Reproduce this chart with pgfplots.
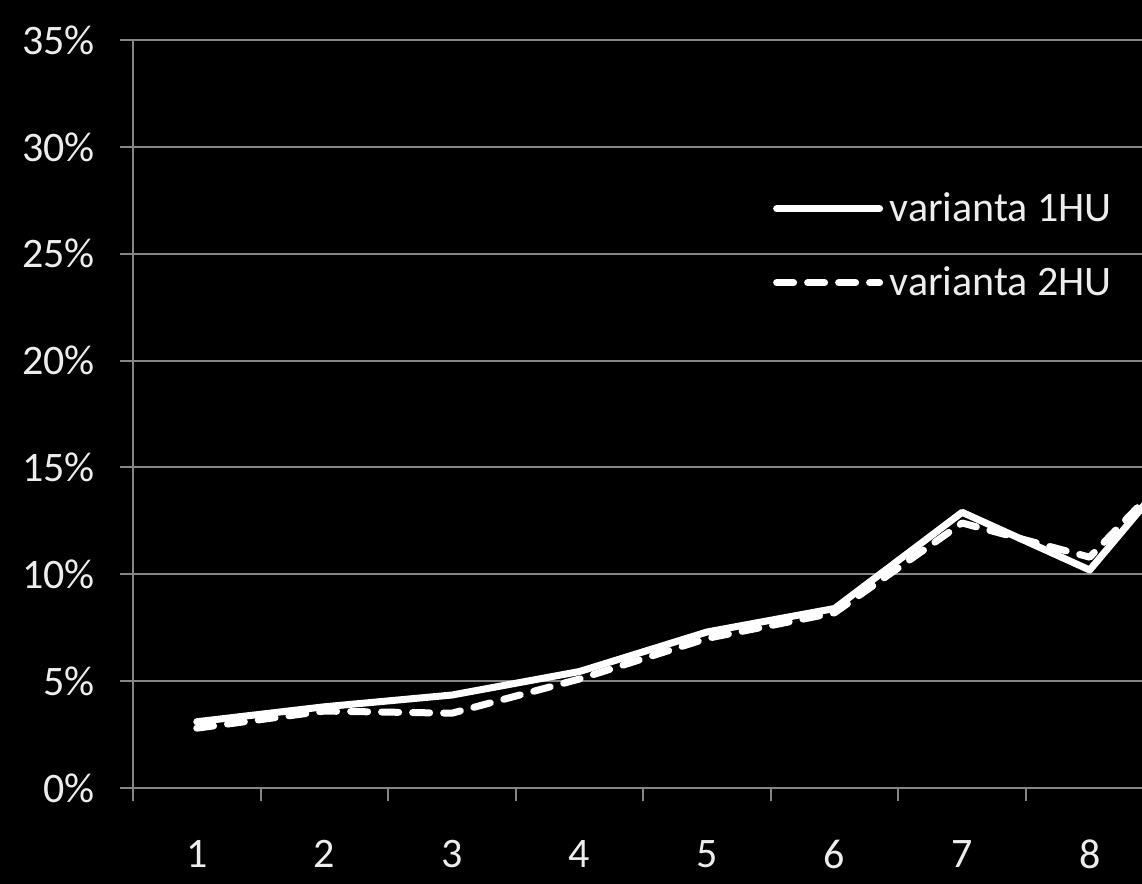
\documentclass[border=0pt]{standalone}
\usepackage{fontspec}
\setmainfont{Carlito}
\usepackage{pgfplots}
\pgfplotsset{compat=1.18}
\definecolor{gridgray}{HTML}{868686}
\definecolor{txt}{HTML}{EDEDED}
\begin{document}
\begin{tikzpicture}
\fill[black] (-66.5pt,-94pt) rectangle (504.5pt,348pt);
\useasboundingbox (-66.5pt,-94pt) rectangle (504.5pt,348pt);
\begin{axis}[
  at={(0pt,-46pt)}, anchor=south west,
  scale only axis, width=504.5pt, height=374pt,
  xmin=0.5, xmax=8.41, ymin=0, ymax=35,
  axis lines=left, axis line style={-, gridgray, line width=1pt},
  xtick={1,...,8}, minor xtick={0.5,1.5,...,8.5},
  ytick={0,5,...,35},
  yticklabel={\pgfmathprintnumber{\tick}\%},
  tick align=outside,
  major tick length=6.5pt, minor tick length=6.5pt,
  major x tick style={draw=none},
  tick style={gridgray, line width=1pt},
  ymajorgrids, major grid style={gridgray, line width=1pt},
  /pgf/number format/assume math mode=true,
  ticklabel style={font=\fontsize{21}{25}\selectfont, text=txt},
  yticklabel style={xshift=-9pt},
  xticklabel style={yshift=-16pt},
  legend style={draw=none, fill=none, at={(0.634,0.725)}, anchor=west,
    inner sep=0pt, row sep=17pt, font=\fontsize{21}{25}\selectfont, text=txt,
    nodes={inner xsep=3.3pt}},
  legend cell align=left,
  legend image code/.code={\draw[#1] (1.75pt,0pt) -- (53.25pt,0pt);},
]
\addplot[white, line width=3.5pt, line join=round, line cap=round] coordinates {
  (1,3.1) (2,3.8) (3,4.35) (4,5.45) (5,7.3) (6,8.4) (7,12.9) (8,10.2) (9,17.3)};
\addlegendentry{varianta 1HU}
\addplot[white, line width=3.5pt, line join=round, line cap=round, dash pattern=on 8.5pt off 7pt] coordinates {
  (1,2.8) (2,3.6) (3,3.5) (4,5.1) (5,7.0) (6,8.2) (7,12.4) (8,10.8) (9,17.0)};
\addlegendentry{varianta 2HU}
\end{axis}
\end{tikzpicture}
\end{document}
